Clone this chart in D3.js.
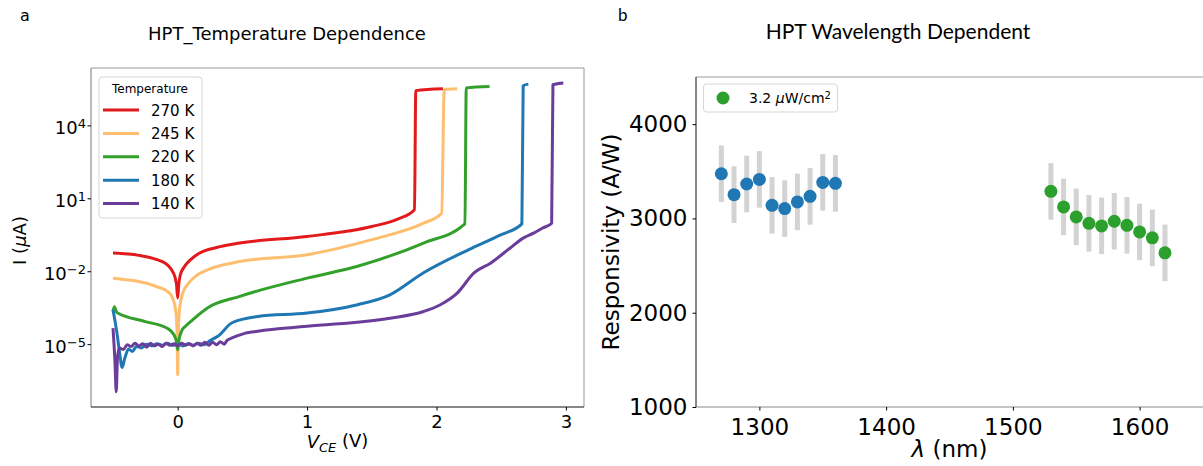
<!DOCTYPE html>
<html>
<head>
<meta charset="utf-8">
<script src="https://cdn.jsdelivr.net/npm/d3@7"></script>
<style>
  body { margin: 0; background: #fff; }
  text { font-family: "DejaVu Sans", sans-serif; fill: #000; }
</style>
</head>
<body>
<div id="chart"></div>
<script>

// ---- panel a : I-V curves, [V_CE (V), I (uA)] ----
const temps = ["270 K", "245 K", "220 K", "180 K", "140 K"];
const tempColors = ["#e31a1c", "#fdbf6f", "#33a02c", "#1f78b4", "#6a3d9a"];

const iv270 = [[-0.5,5.6e-2],[-0.3,4.5e-2],[-0.16,3.0e-2],[-0.1,2.2e-2],[-0.05,1.2e-2],[-0.02,5.5e-3],[-0.008,2.5e-3],
  [0,8e-4],[0.008,2.8e-3],[0.02,7e-3],[0.05,1.5e-2],[0.1,3.0e-2],[0.17,5.6e-2],[0.3,9.5e-2],[0.48,1.45e-1],
  [1.0,2.7e-1],[1.5,6.9e-1],[1.7,1.4],[1.83,3.4],[1.84,2.7e5],[2.05,3.2e5]];
const iv245 = [[-0.5,5.2e-3],[-0.16,2.3e-3],[-0.08,1.5e-3],[-0.04,8e-4],[-0.015,2.5e-4],[-0.005,3e-5],[0,5.5e-7],
  [0.005,3e-5],[0.015,3e-4],[0.04,1.3e-3],[0.08,3e-3],[0.15,7e-3],[0.23,1.15e-2],[0.48,2.5e-2],[1.0,4.8e-2],
  [1.5,2.0e-1],[1.9,9.5e-1],[2.04,2.45],[2.06,2.95e5],[2.16,3.2e5]];
const iv220 = [[-0.5,2.2e-4],[-0.49,3.5e-4],[-0.47,2.0e-4],[-0.25,8.5e-5],[-0.08,4.5e-5],[-0.03,2.5e-5],[-0.01,1.3e-5],
  [0,5.9e-6],[0.01,1.5e-5],[0.03,3.5e-5],[0.06,5.5e-5],[0.1,8.5e-5],[0.23,3.1e-4],[0.48,9.3e-4],[1.0,5.2e-3],
  [1.39,1.6e-2],[1.9,1.45e-1],[2.22,8.9e-1],[2.23,3.5e5],[2.41,4.0e5]];
const iv180 = [[-0.5,2.6e-4],[-0.47,3e-5],[-0.45,5e-6],[-0.43,1.1e-6],[-0.41,2.5e-6],[-0.38,6.3e-6],[-0.35,5e-6],
  [-0.32,8e-6],[-0.28,7e-6],[-0.24,1.0e-5],[-0.2,8.5e-6],[-0.16,1.05e-5],[-0.12,9e-6],[-0.08,1.1e-5],[-0.04,9e-6],
  [0,1.0e-5],[0.04,8.5e-6],[0.08,1.05e-5],[0.12,9e-6],[0.16,1.1e-5],[0.2,9.5e-6],[0.25,1.4e-5],[0.31,2.1e-5],
  [0.42,7.6e-5],[0.62,1.38e-4],[1.0,1.9e-4],[1.39,4.2e-4],[1.64,1.07e-3],[1.9,8.7e-3],[2.25,7.8e-2],[2.5,3.2e-1],
  [2.66,8.9e-1],[2.67,4.3e5],[2.71,5.0e5]];
const iv140 = [[-0.5,4.6e-5],[-0.485,2e-6],[-0.475,1.1e-7],[-0.465,3e-6],[-0.45,7e-6],[-0.42,6e-6],[-0.39,9.5e-6],
  [-0.36,8e-6],[-0.33,1.1e-5],[-0.3,8.5e-6],[-0.27,1.05e-5],[-0.24,7.5e-6],[-0.21,1.1e-5],[-0.18,8.5e-6],
  [-0.15,1.0e-5],[-0.12,8e-6],[-0.09,1.1e-5],[-0.06,9e-6],[-0.03,1.05e-5],[0,8.5e-6],[0.03,1.1e-5],[0.06,9e-6],
  [0.09,1.05e-5],[0.12,8.5e-6],[0.15,1.1e-5],[0.18,9e-6],[0.21,1.2e-5],[0.24,9e-6],[0.27,1.2e-5],[0.3,9.5e-6],
  [0.33,1.25e-5],[0.36,1.0e-5],[0.38,1.4e-5],[0.42,1.8e-5],[0.5,2.6e-5],[0.62,3.4e-5],[1.0,5.4e-5],[1.64,1.17e-4],
  [1.9,2.2e-4],[2.03,4.2e-4],[2.16,1.26e-3],[2.29,8.5e-3],[2.42,2.2e-2],[2.57,9.1e-2],[2.67,2.3e-1],[2.75,3.7e-1],
  [2.82,6.0e-1],[2.89,9.5e-1],[2.9,4.7e5],[2.98,5.5e5]];
const ivCurves = [iv270, iv245, iv220, iv180, iv140];

const vTicks = [0, 1, 2, 3];
const iTickExps = [-5, -2, 1, 4];

// ---- panel b : responsivity vs wavelength ----
const lamBlue = [1270, 1280, 1290, 1300, 1310, 1320, 1330, 1340, 1350, 1360];
const respBlue = [3474, 3252, 3365, 3414, 3139, 3104, 3175, 3234, 3382, 3372];
const errBlue = [300, 300, 300, 300, 300, 300, 300, 300, 300, 300];
const lamGreen = [1530, 1540, 1550, 1560, 1570, 1580, 1590, 1600, 1610, 1620];
const respGreen = [3287, 3122, 3016, 2948, 2921, 2970, 2927, 2857, 2794, 2635];
const errGreen = [300, 300, 300, 300, 300, 300, 300, 300, 300, 300];
const lamTicks = [1300, 1400, 1500, 1600];
const respTicks = [1000, 2000, 3000, 4000];

const W = 1203, H = 466;

var svg = d3.select("#chart").append("svg")
            .attr("width", W)
            .attr("height", H);

// panel letters and titles
svg.append("text").attr("x", 20).attr("y", 21).style("font-size", "16px").text("a");
svg.append("text").attr("x", 618).attr("y", 21)
   .style("font-family", "Lato, 'Open Sans', sans-serif").style("font-size", "17px").text("b");
svg.append("text").attr("x", 287).attr("y", 40).attr("text-anchor", "middle")
   .style("font-size", "18px").text("HPT_Temperature Dependence");
svg.append("text").attr("x", 898).attr("y", 39).attr("text-anchor", "middle")
   .style("font-family", "Lato, 'Open Sans', sans-serif").style("font-size", "21px")
   .text("HPT Wavelength Dependent");

// ================= panel a =================
var A = {left: 91, right: 584, top: 68, bottom: 407};

var x = d3.scaleLinear().domain([-0.67, 3.14]).range([A.left, A.right]);
var y = d3.scaleLog().domain([2.6e-8, 2.3e6]).range([A.bottom, A.top]);

var gA = svg.append("g");

var line = d3.line()
             .curve(d3.curveMonotoneX)
             .x(function(d){ return x(d[0]); })
             .y(function(d){ return y(d[1]); });

gA.selectAll("path.iv")
  .data(ivCurves)
  .enter()
  .append("path")
  .attr("class", "iv")
  .attr("d", line)
  .attr("fill", "none")
  .attr("stroke", function(d, i){ return tempColors[i]; })
  .attr("stroke-width", 3)
  .attr("stroke-linejoin", "round");

// spines
gA.append("line").attr("x1", A.left).attr("x2", A.right).attr("y1", A.top).attr("y2", A.top).attr("stroke", "#999");
gA.append("line").attr("x1", A.right).attr("x2", A.right).attr("y1", A.top).attr("y2", A.bottom).attr("stroke", "#999");
gA.append("line").attr("x1", A.left).attr("x2", A.left).attr("y1", A.top).attr("y2", A.bottom).attr("stroke", "#777");
gA.append("line").attr("x1", A.left).attr("x2", A.right).attr("y1", A.bottom).attr("y2", A.bottom).attr("stroke", "#111");

var xAxisA = gA.append("g")
   .attr("transform", "translate(0," + A.bottom + ")")
   .call(d3.axisBottom(x).tickValues(vTicks).tickSize(3.5).tickPadding(4).tickFormat(d3.format("d")));
xAxisA.select(".domain").remove();
xAxisA.selectAll("text").style("font-size", "18px").attr("dy", "0.75em");

var yAxisA = gA.append("g")
   .attr("transform", "translate(" + A.left + ",0)")
   .call(d3.axisLeft(y).tickValues(iTickExps.map(function(e){ return Math.pow(10, e); })).tickSize(3.5).tickFormat(""));
yAxisA.select(".domain").remove();
yAxisA.selectAll(".tick").each(function(d, i) {
    var t = d3.select(this).append("text")
              .attr("x", -5).attr("dy", "0.45em")
              .attr("text-anchor", "end")
              .style("font-size", "18px");
    t.append("tspan").text("10");
    t.append("tspan").attr("dy", "-0.45em").style("font-size", "13px").text(iTickExps[i] < 0 ? "\u2212" + (-iTickExps[i]) : iTickExps[i]);
});

// axis labels
var xl = gA.append("text").attr("x", (A.left + A.right) / 2).attr("y", 448)
           .attr("text-anchor", "middle").style("font-size", "18px");
xl.append("tspan").style("font-style", "italic").text("V");
xl.append("tspan").attr("dy", "0.3em").style("font-style", "italic").style("font-size", "13px").text("CE");
xl.append("tspan").attr("dy", "-0.3em").text(" (V)");

var yl = gA.append("text").attr("transform", "translate(26," + ((A.top + A.bottom) / 2 + 3) + ") rotate(-90)")
           .attr("text-anchor", "middle").style("font-size", "18px");
yl.append("tspan").text("I (");
yl.append("tspan").style("font-style", "italic").text("\u03bc");
yl.append("tspan").text("A)");

// legend
var legA = gA.append("g");
legA.append("rect").attr("x", 99).attr("y", 77).attr("width", 103).attr("height", 141)
    .attr("rx", 3).attr("fill", "#fff").attr("fill-opacity", 0.8).attr("stroke", "#d6d6d6");
legA.append("text").attr("x", 150).attr("y", 93).attr("text-anchor", "middle")
    .style("font-size", "12px").text("Temperature");
var items = legA.selectAll("g.item").data(temps).enter().append("g")
    .attr("class", "item")
    .attr("transform", function(d, i){ return "translate(0," + (110 + i * 23.4) + ")"; });
items.append("line").attr("x1", 103).attr("x2", 139).attr("y1", 0).attr("y2", 0)
    .attr("stroke", function(d, i){ return tempColors[i]; }).attr("stroke-width", 3);
items.append("text").attr("x", 151).attr("y", 5.5).style("font-size", "15px").text(function(d){ return d; });

// ================= panel b =================
var B = {left: 696, right: 1203, top: 77, bottom: 407};

var xb = d3.scaleLinear().domain([1250, 1650]).range([B.left, B.right]);
var yb = d3.scaleLinear().domain([1000, 4500]).range([B.bottom, B.top]);

var gB = svg.append("g");

gB.append("line").attr("x1", B.left).attr("x2", B.right).attr("y1", B.top).attr("y2", B.top).attr("stroke", "#999");
gB.append("line").attr("x1", B.left).attr("x2", B.right).attr("y1", B.bottom).attr("y2", B.bottom).attr("stroke", "#888");
gB.append("line").attr("x1", B.left).attr("x2", B.left).attr("y1", B.top).attr("y2", B.bottom).attr("stroke", "#111");

var xAxisB = gB.append("g")
   .attr("transform", "translate(0," + B.bottom + ")")
   .call(d3.axisBottom(xb).tickValues(lamTicks).tickSize(3.5).tickPadding(4).tickFormat(d3.format("d")));
xAxisB.select(".domain").remove();
xAxisB.selectAll("text").style("font-size", "23px").attr("dy", "0.89em");

var yAxisB = gB.append("g")
   .attr("transform", "translate(" + B.left + ",0)")
   .call(d3.axisLeft(yb).tickValues(respTicks).tickSize(3.5).tickPadding(5).tickFormat(d3.format("d")));
yAxisB.select(".domain").remove();
yAxisB.selectAll("text").style("font-size", "23px");

gB.selectAll(".tick line").attr("stroke", "#000");

var series = [
  {lam: lamBlue, r: respBlue, e: errBlue, color: "#1f77b4"},
  {lam: lamGreen, r: respGreen, e: errGreen, color: "#2ca02c"}
];

series.forEach(function(s) {
    var pts = s.lam.map(function(l, i){ return {l: l, r: s.r[i], e: s.e[i]}; });
    gB.selectAll(null).data(pts).enter().append("line")
      .attr("x1", function(d){ return xb(d.l); }).attr("x2", function(d){ return xb(d.l); })
      .attr("y1", function(d){ return yb(d.r - d.e); }).attr("y2", function(d){ return yb(d.r + d.e); })
      .attr("stroke", "#d3d3d3").attr("stroke-width", 5);
    gB.selectAll(null).data(pts).enter().append("circle")
      .attr("cx", function(d){ return xb(d.l); })
      .attr("cy", function(d){ return yb(d.r); })
      .attr("r", 6.5)
      .attr("fill", s.color);
});

gB.append("text").attr("x", (B.left + B.right) / 2).attr("y", 457).attr("text-anchor", "middle")
  .style("font-size", "23px")
  .html('<tspan font-style="italic">\u03bb</tspan> (nm)');

gB.append("text").attr("transform", "translate(619," + ((B.top + B.bottom) / 2) + ") rotate(-90)")
  .attr("text-anchor", "middle").style("font-size", "23px").text("Responsivity (A/W)");

// legend b
var legB = gB.append("g");
legB.append("rect").attr("x", 703.5).attr("y", 84).attr("width", 134).attr("height", 28)
    .attr("rx", 3).attr("fill", "#fff").attr("stroke", "#d6d6d6");
legB.append("circle").attr("cx", 723).attr("cy", 98).attr("r", 6.5).attr("fill", "#2ca02c");
var lt = legB.append("text").attr("x", 749).attr("y", 103).style("font-size", "14px");
lt.append("tspan").text("3.2 ");
lt.append("tspan").style("font-style", "italic").text("\u03bc");
lt.append("tspan").text("W/cm");
lt.append("tspan").attr("dy", "-0.45em").style("font-size", "10px").text("2");

</script>
</body>
</html>
